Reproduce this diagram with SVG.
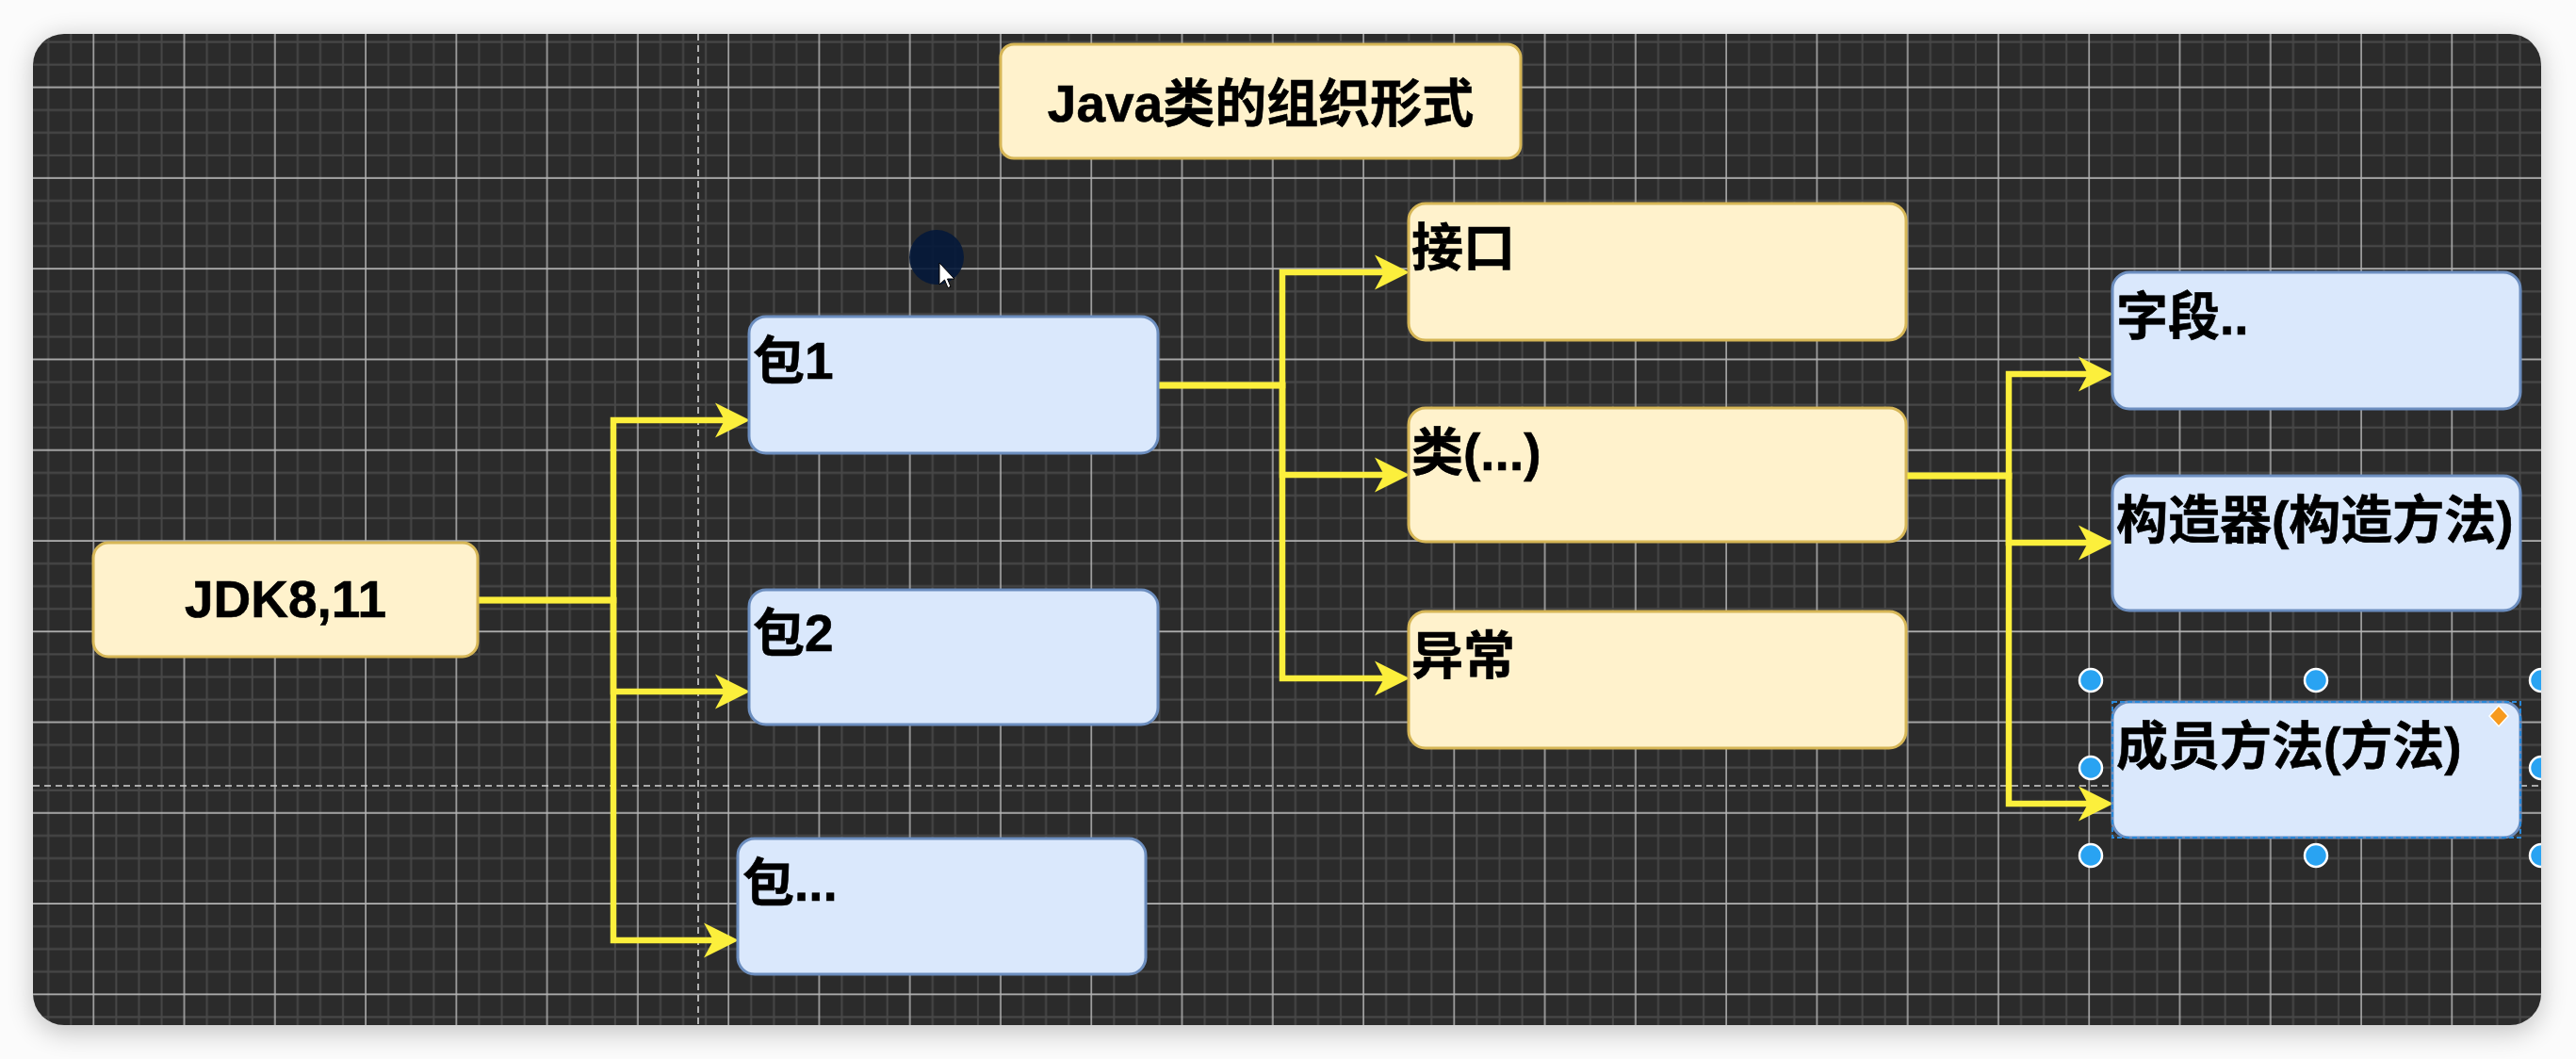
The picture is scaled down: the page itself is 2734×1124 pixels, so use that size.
<svg xmlns="http://www.w3.org/2000/svg" width="2734" height="1124" viewBox="0 0 2734 1124">
<defs>
<style>
.lbl{font-family:"Liberation Sans","Noto Sans CJK SC",sans-serif;font-weight:700;font-size:55px;fill:#000;stroke:#000;stroke-width:0.6}
.yel{fill:#fff2cc;stroke:#d6b656;stroke-width:3}
.blu{fill:#dae8fc;stroke:#6c8ebf;stroke-width:3}
.con{fill:none;stroke:#fcef3c;stroke-width:6.5;stroke-linejoin:miter;marker-end:url(#arr)}
.guide{stroke:#d4d4d4;stroke-width:1.6;stroke-dasharray:7 5;fill:none}
.hdl{fill:#29a3f2;stroke:#ffffff;stroke-width:2.5}
.minor{stroke:#474747;stroke-width:2}
.major{stroke:#b4b4b4;stroke-width:1.5}
</style>
<pattern id="grid" patternUnits="userSpaceOnUse" x="87.27" y="80.67" width="96.27" height="96.27">
<line class="minor" x1="36.1" y1="0" x2="36.1" y2="96.27"/>
<line class="minor" x1="60.17" y1="0" x2="60.17" y2="96.27"/>
<line class="minor" x1="84.24" y1="0" x2="84.24" y2="96.27"/>
<line class="minor" x1="0" y1="36.1" x2="96.27" y2="36.1"/>
<line class="minor" x1="0" y1="60.17" x2="96.27" y2="60.17"/>
<line class="minor" x1="0" y1="84.24" x2="96.27" y2="84.24"/>
<line class="major" x1="12.03" y1="0" x2="12.03" y2="96.27"/>
<line class="major" x1="0" y1="12.03" x2="96.27" y2="12.03"/>
</pattern>
<clipPath id="canvasClip"><rect x="35" y="36" width="2662" height="1052" rx="33"/></clipPath>
<filter id="shadow" x="-5%" y="-10%" width="110%" height="120%"><feGaussianBlur stdDeviation="14"/></filter>
<marker id="arr" markerUnits="userSpaceOnUse" viewBox="0 -19 37 38" refX="10" refY="0" markerWidth="37" markerHeight="38" orient="auto">
<path d="M0,-18.5 L37,0 L0,18.5 L10,0 Z" fill="#fcef3c"/>
</marker>
</defs>
<rect x="0" y="0" width="2734" height="1124" fill="#fbfbfb"/>
<rect x="35" y="40" width="2662" height="1056" rx="33" fill="#000" opacity="0.22" filter="url(#shadow)"/>
<g clip-path="url(#canvasClip)">
<rect x="35" y="36" width="2662" height="1052" fill="#2b2b2b"/>
<rect x="35" y="36" width="2662" height="1052" fill="url(#grid)"/>
<line class="guide" x1="741" y1="36" x2="741" y2="1088"/>
<line class="guide" x1="35" y1="834" x2="2697" y2="834"/>

<g id="connectors">
<path class="con" d="M507,637 H651 V446 H769"/>
<path class="con" d="M507,637 H651 V734 H769"/>
<path class="con" d="M507,637 H651 V998 H757"/>
<path class="con" d="M1229,409 H1361 V289 H1469"/>
<path class="con" d="M1229,409 H1361 V504 H1469"/>
<path class="con" d="M1229,409 H1361 V720 H1469"/>
<path class="con" d="M2023,505 H2132 V397 H2216"/>
<path class="con" d="M2023,505 H2132 V576 H2216"/>
<path class="con" d="M2023,505 H2132 V853 H2216"/>
</g>

<g id="node-title">
<rect class="yel" x="1062" y="47" width="552" height="121" rx="14"/>
<text class="lbl" x="1338" y="129" text-anchor="middle">Java类的组织形式</text>
</g>
<g id="node-jdk">
<rect class="yel" x="99" y="576" width="408" height="121" rx="16"/>
<text class="lbl" x="303" y="655" text-anchor="middle">JDK8,11</text>
</g>
<g id="node-pkg1">
<rect class="blu" x="795" y="336" width="434" height="145" rx="18"/>
<text class="lbl" x="799" y="402">包1</text>
</g>
<g id="node-pkg2">
<rect class="blu" x="795" y="626" width="434" height="143" rx="18"/>
<text class="lbl" x="799" y="691">包2</text>
</g>
<g id="node-pkg3">
<rect class="blu" x="783" y="890" width="433" height="144" rx="18"/>
<text class="lbl" x="788" y="956">包...</text>
</g>
<g id="node-interface">
<rect class="yel" x="1495" y="216" width="528" height="145" rx="18"/>
<text class="lbl" x="1498" y="282">接口</text>
</g>
<g id="node-class">
<rect class="yel" x="1495" y="433" width="528" height="142" rx="18"/>
<text class="lbl" x="1498" y="499">类(...)</text>
</g>
<g id="node-exception">
<rect class="yel" x="1495" y="649" width="528" height="145" rx="18"/>
<text class="lbl" x="1498" y="715">异常</text>
</g>
<g id="node-field">
<rect class="blu" x="2242" y="289" width="433" height="145" rx="18"/>
<text class="lbl" x="2246" y="355">字段..</text>
</g>
<g id="node-constructor">
<rect class="blu" x="2242" y="505" width="433" height="143" rx="18"/>
<text class="lbl" x="2246" y="571">构造器(构造方法)</text>
</g>
<g id="node-method">
<rect class="blu" x="2242" y="745" width="433" height="144" rx="18"/>
<rect x="2242" y="745" width="433" height="144" fill="none" stroke="#2a88d8" stroke-width="2" stroke-dasharray="5 3"/>
<text class="lbl" x="2246" y="811">成员方法(方法)</text>
</g>

<g id="selection-handles">
<circle class="hdl" cx="2219" cy="722" r="12"/>
<circle class="hdl" cx="2458" cy="722" r="12"/>
<circle class="hdl" cx="2697" cy="722" r="12"/>
<circle class="hdl" cx="2219" cy="815" r="12"/>
<circle class="hdl" cx="2697" cy="815" r="12"/>
<circle class="hdl" cx="2219" cy="908" r="12"/>
<circle class="hdl" cx="2458" cy="908" r="12"/>
<circle class="hdl" cx="2697" cy="908" r="12"/>
<path d="M2652,749 L2662,760 L2652,771 L2642,760 Z" fill="#f79a1e" stroke="#ffffff" stroke-width="1.5"/>
</g>

<g id="cursor">
<circle cx="994" cy="273" r="29" fill="#04183a" opacity="0.9"/>
<path d="M997,279 L997,302 L1002.5,297 L1006,305.5 L1009,304.3 L1005.5,296 L1013,296 Z" fill="#ffffff" stroke="#000000" stroke-width="1"/>
</g>
</g>
</svg>
